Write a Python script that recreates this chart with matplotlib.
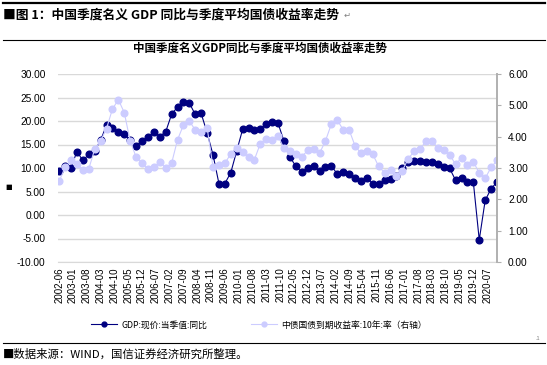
import pandas as pd
import matplotlib
matplotlib.use("Agg")
import matplotlib.pyplot as plt
from matplotlib.lines import Line2D

plt.rcParams["font.family"] = ["Liberation Sans", "Noto Sans CJK SC", "DejaVu Sans"]

# quarterly observations, 2002-06 .. 2020-12
quarters = pd.date_range("2002-06-01", "2020-12-01", freq="3MS")
gdp_yoy = [9.3, 10.4, 10.1, 13.5, 11.6, 12.9, 13.7, 15.9, 19.1, 18.6,
           17.6, 17.2, 15.9, 14.75, 15.7, 16.5, 17.7, 16.7, 17.7, 21.4,
           23.0, 24.0, 23.8, 21.4, 21.6, 17.5, 12.8, 6.7, 6.7, 9.0,
           13.6, 18.2, 18.6, 18.0, 18.3, 19.4, 19.7, 19.5, 15.7, 12.3,
           10.4, 9.1, 10.1, 10.4, 9.3, 10.3, 10.5, 8.7, 9.1, 8.7,
           7.8, 7.3, 7.8, 6.7, 6.5, 7.4, 7.7, 8.2, 9.9, 11.3,
           11.5, 11.5, 11.3, 11.2, 10.9, 10.2, 9.9, 7.4, 7.9, 7.0,
           7.0, -5.3, 3.1, 5.6, 7.0]
bond_10y = [2.58, 3.02, 3.24, 3.14, 2.94, 2.97, 3.60, 3.86, 4.26, 4.88,
            5.18, 4.77, 3.86, 3.35, 3.17, 2.96, 3.02, 3.20, 3.00, 3.15,
            3.90, 4.37, 4.49, 4.22, 4.16, 4.29, 3.03, 3.11, 3.15, 3.45,
            3.65, 3.50, 3.35, 3.27, 3.78, 3.93, 3.89, 4.01, 3.63, 3.53,
            3.45, 3.36, 3.56, 3.60, 3.47, 3.86, 4.40, 4.53, 4.22, 4.22,
            3.71, 3.47, 3.53, 3.44, 3.05, 2.85, 2.94, 2.76, 2.91, 3.30,
            3.53, 3.60, 3.86, 3.86, 3.65, 3.57, 3.42, 3.12, 3.32, 3.09,
            3.20, 2.84, 2.67, 3.02, 3.24]
tick_dates = pd.date_range("2002-06-01", "2020-07-01", freq="7MS")

label_gdp = "GDP:现价:当季值:同比"
label_bond = "中债国债到期收益率:10年:率（右轴）"


def month_index(dates):
    return [(d.year - 2002) * 12 + d.month - 6 for d in dates]


W, H = 547, 365
x = month_index(quarters)
xt = month_index(tick_dates)

fig = plt.figure(figsize=(W / 100, H / 100), dpi=100)
ax = fig.add_axes([58 / W, 1 - 262 / H, (497 - 58) / W, (262 - 74) / H])
ax2 = ax.twinx()

dark = "#000080"
light = "#ccccff"
grid = "#d9d9d9"

ax.plot(x, gdp_yoy, color=dark, lw=0.8, marker="o", ms=4.8, mec=dark, mfc=dark)
ax2.plot(x, bond_10y, color=light, lw=0.8, marker="o", ms=4.8, mec=light, mfc=light)

ax.set_ylim(-10, 30)
ax.set_yticks(range(-10, 31, 5))
ax.set_yticklabels([f"{v:.2f}" for v in range(-10, 31, 5)])
ax2.set_ylim(0, 6)
ax2.set_yticks(range(0, 7))
ax2.set_yticklabels([f"{v:.2f}" for v in range(0, 7)])
ax.set_xlim(-0.6, x[-1])
ax.set_xticks(xt)
ax.set_xticklabels([d.strftime("%Y-%m") for d in tick_dates], rotation=90)

ax.grid(axis="y", color=grid, lw=1.0)
ax.set_axisbelow(True)
for a in (ax, ax2):
    for s in a.spines.values():
        s.set_visible(False)
ax2.spines["right"].set_visible(True)
ax2.spines["right"].set_color("#b0b0b0")
ax2.spines["right"].set_linewidth(1.4)
ax.spines["bottom"].set_visible(True)
ax.spines["bottom"].set_color(grid)

ax.tick_params(axis="y", length=0, pad=9, labelsize=7.3)
ax.tick_params(axis="x", length=0, pad=4, labelsize=7.0)
ax2.tick_params(axis="y", length=3, color="#b0b0b0", pad=5, labelsize=7.3)

# header
fig.add_artist(Line2D([3 / W, 545 / W], [1 - 2.5 / H] * 2, color="black", lw=1.6))
fig.add_artist(Line2D([3 / W, 545 / W], [1 - 40 / H] * 2, color="black", lw=0.8))
fig.text(3 / W, 1 - 15 / H, "■图 1：中国季度名义 GDP 同比与季度平均国债收益率走势",
         fontsize=9.2, fontweight="bold", va="center", ha="left",
         family=["Noto Sans CJK SC", "DejaVu Sans"])
fig.text(344 / W, 1 - 15 / H, "↵", fontsize=6, color="#808080", va="center",
         family=["DejaVu Sans"])
fig.text(260 / W, 1 - 48 / H, "中国季度名义GDP同比与季度平均国债收益率走势",
         fontsize=8.3, fontweight="bold", va="center", ha="center",
         family=["Noto Sans CJK SC", "DejaVu Sans"])
fig.text(5 / W, 1 - 187 / H, "■", fontsize=5, va="center", ha="left",
         family=["DejaVu Sans"])

# legend
h1 = Line2D([], [], color=dark, lw=0.8, marker="o", ms=3.5, mec=dark, mfc=dark)
h2 = Line2D([], [], color=light, lw=0.8, marker="o", ms=3.5, mec=light, mfc=light)
fig.legend([h1, h2], [label_gdp, label_bond], loc="center",
           bbox_to_anchor=(259 / W, 1 - 325 / H), ncol=2, frameon=False,
           handlelength=3.0, handletextpad=0.5, columnspacing=5.0,
           prop={"family": ["Noto Sans CJK SC"], "size": 6.3})

# footer
fig.add_artist(Line2D([3 / W, 545 / W], [1 - 343 / H] * 2, color="black", lw=0.8))
fig.text(540 / W, 1 - 338 / H, ".1", fontsize=4, color="#808080", ha="right", va="center")
fig.text(3 / W, 1 - 354 / H, "■数据来源：WIND，国信证券经济研究所整理。",
         fontsize=8.2, va="center", ha="left",
         family=["Noto Sans CJK SC", "DejaVu Sans"])

fig.savefig("out.png", dpi=100)
